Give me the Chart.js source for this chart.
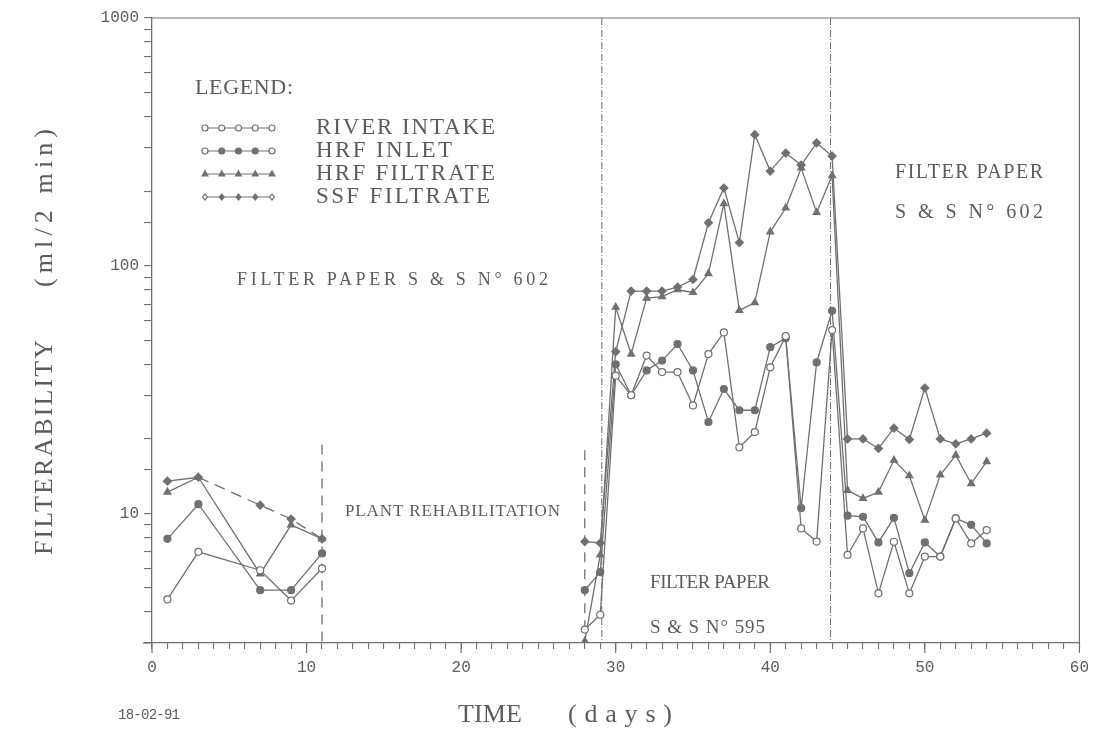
<!DOCTYPE html>
<html><head><meta charset="utf-8">
<script src="https://cdn.jsdelivr.net/npm/chart.js@4/dist/chart.umd.min.js"></script>
<style>html,body{margin:0;padding:0;background:#fff}canvas{display:block}</style>
</head><body>
<canvas id="c" width="1098" height="735"></canvas>
<script>
// ---- data (days; null = no measurement / gap) ----
const days = [1,3,7,9,11,20,28,29,30,31,32,33,34,35,36,37,38,39,40,41,42,43,44,45,46,47,48,49,50,51,52,53,54];
const riverIntake = [4.5,7.0,5.9,4.45,6.0, null, 3.4,3.9, 36,30,43.4,37.2,37.2,27.3,44,53.8,18.5,21.3,38.9,52,8.7,7.7,55, 6.8,8.7,4.76,7.69,4.76,6.7,6.7,9.55,7.57,8.57];
const hrfInlet = [7.9,10.9,4.9,4.9,6.9, null, 4.9,5.8, 40,30,37.8,41.4,48.3,37.8,23.4,31.8,26.1,26.1,46.9,51,10.5,40.7,65.8, 9.8,9.7,7.64,9.6,5.74,7.64,6.7,9.55,9.0,7.57];
const hrfFiltrate = [12.2,14,5.7,9.0,7.9, null, 3.05,6.8, 68,44,74,75,80,78,93,178,66,71,137,171,248,164,231, 12.4,11.5,12.2,16.4,14.2,9.4,14.3,17.2,13.2,16.2];
const ssfFiltrate = [13.5,14,10.8,9.5,7.9, null, 7.7,7.6, 45,79,79,79,82,88,149,206,124,338,241,285,255,313,277, 20,20,18.3,22.1,19.9,32.1,20,19.1,20,21.1];
const seriesNames = ['RIVER INTAKE','HRF INLET','HRF FILTRATE','SSF FILTRATE'];
const xTickLabels = [0,10,20,30,40,50,60];
const yTickLabels = [10,100,1000];
// vertical markers: day, top value
const periodDays = [11, 28, 29.1, 43.9];
const periodTops = [19, 18, 1000, 1000];

const INK = '#707070';
const TXT = '#5c5c5c';
const SERIF = '"Liberation Serif", "DejaVu Serif", serif';
const MONO = '"Liberation Mono", "DejaVu Sans Mono", monospace';

function pts(vals){ return days.map((d,i)=>({x:d, y:vals[i]})); }

const base = {borderColor: INK, borderWidth: 1.3, pointBorderColor: INK, pointBorderWidth: 1.2, tension: 0, spanGaps: false};
const datasets = [
  Object.assign({}, base, {label: seriesNames[0], data: pts(riverIntake), pointStyle:'circle', pointRadius:3.5, pointBackgroundColor:'#fff'}),
  Object.assign({}, base, {label: seriesNames[1], data: pts(hrfInlet), pointStyle:'circle', pointRadius:3.5, pointBackgroundColor:INK}),
  Object.assign({}, base, {label: seriesNames[2], data: pts(hrfFiltrate), pointStyle:'triangle', pointRadius:4, pointBackgroundColor:INK}),
  Object.assign({}, base, {label: seriesNames[3], data: pts(ssfFiltrate), pointStyle:'rectRot', pointRadius:4, pointBackgroundColor:INK,
    segment: {borderDash: c => (c.p0.parsed.x >= 3 && c.p1.parsed.x <= 11) ? [11,7] : undefined}})
];

function fitText(ctx, text, x, y, width, size, family){
  ctx.font = size + 'px ' + family;
  ctx.letterSpacing = '0px';
  const w0 = ctx.measureText(text).width;
  const ls = text.length > 1 ? (width - w0) / (text.length - 1) : 0;
  ctx.letterSpacing = ls + 'px';
  ctx.textAlign = 'left'; ctx.textBaseline = 'middle';
  ctx.fillText(text, x, y);
  ctx.letterSpacing = '0px';
}
function marker(ctx, style, x, y, r, fill){
  ctx.beginPath();
  if (style === 'circle') ctx.arc(x, y, r, 0, Math.PI*2);
  else if (style === 'triangle'){ ctx.moveTo(x, y-r); ctx.lineTo(x+r*0.9, y+r*0.6); ctx.lineTo(x-r*0.9, y+r*0.6); ctx.closePath(); }
  else { ctx.moveTo(x, y-r); ctx.lineTo(x+r*0.8, y); ctx.lineTo(x, y+r); ctx.lineTo(x-r*0.8, y); ctx.closePath(); }
  ctx.fillStyle = fill; ctx.fill(); ctx.stroke();
}

const deco = {
  id: 'deco',
  beforeDatasetsDraw(chart){
    const ctx = chart.ctx, xs = chart.scales.x, ys = chart.scales.y, a = chart.chartArea;
    ctx.save();
    ctx.strokeStyle = INK; ctx.lineWidth = 1.2;
    // frame top / right
    ctx.beginPath(); ctx.moveTo(a.left, a.top); ctx.lineTo(a.right, a.top); ctx.lineTo(a.right, a.bottom); ctx.stroke();
    // axis overshoot at origin and longer major x ticks
    ctx.beginPath(); ctx.moveTo(a.left - 9, a.bottom); ctx.lineTo(a.left, a.bottom); ctx.stroke();
    xTickLabels.forEach(v => { const px = xs.getPixelForValue(v); ctx.beginPath(); ctx.moveTo(px, a.bottom); ctx.lineTo(px, a.bottom + 10); ctx.stroke(); });
    periodDays.forEach((d,i)=>{
      const px = xs.getPixelForValue(d);
      ctx.beginPath();
      if (periodTops[i] >= 1000){ ctx.setLineDash([7,2,1,2]); ctx.lineWidth = 1; }
      else { ctx.setLineDash([10,7]); ctx.lineWidth = 1.3; }
      ctx.moveTo(px, ys.getPixelForValue(periodTops[i])); ctx.lineTo(px, a.bottom); ctx.stroke();
    });
    ctx.restore();
  },
  afterDraw(chart){
    const ctx = chart.ctx;
    ctx.save();
    ctx.fillStyle = TXT;
    // legend
    fitText(ctx, 'LEGEND:', 195, 88, 98, 22, SERIF);
    const rows = [128, 151, 174, 197];
    const labW = [179, 136, 179, 174];
    const styles = ['circle','circle','triangle','rect'];
    ctx.strokeStyle = INK; ctx.lineWidth = 1.2;
    rows.forEach((ry, i)=>{
      ctx.beginPath(); ctx.moveTo(205, ry); ctx.lineTo(272, ry); ctx.stroke();
      for (let k=0;k<5;k++){
        const mx = 205 + k*16.75;
        let fill = INK;
        if (i===0) fill = '#fff';
        if ((i===1 || i===3) && (k===0 || k===4)) fill = '#fff';
        marker(ctx, styles[i], mx, ry, i===2 ? 3.2 : 3, fill);
      }
      ctx.fillStyle = TXT;
      fitText(ctx, seriesNames[i], 316, ry, labW[i], 23, SERIF);
    });
    // annotations
    fitText(ctx, 'FILTER PAPER S & S N\u00B0 602', 237, 280, 311, 18, SERIF);
    fitText(ctx, 'PLANT REHABILITATION', 345, 512, 215, 17, SERIF);
    fitText(ctx, 'FILTER PAPER', 650, 583, 120, 19, SERIF);
    fitText(ctx, 'S & S N\u00B0 595', 650, 628, 115, 19, SERIF);
    fitText(ctx, 'FILTER PAPER', 895, 173, 148, 20, SERIF);
    fitText(ctx, 'S & S N\u00B0 602', 895, 213, 148, 20, SERIF);
    // axis titles
    fitText(ctx, '18-02-91', 118, 715, 62, 14, MONO);
    fitText(ctx, 'TIME', 458, 715, 64, 26, SERIF);
    fitText(ctx, '(days)', 568, 715, 104, 26, SERIF);
    ctx.translate(45, 555); ctx.rotate(-Math.PI/2);
    fitText(ctx, 'FILTERABILITY', 0, 0, 215, 26, SERIF);
    fitText(ctx, '(ml/2 min)', 268, 0, 158, 26, SERIF);
    ctx.restore();
  }
};

new Chart(document.getElementById('c'), {
  type: 'line',
  data: {datasets},
  plugins: [deco],
  options: {
    responsive: false, animation: false, devicePixelRatio: 1,
    layout: {padding: {left: 0, top: 18, right: 15, bottom: 0}},
    plugins: {legend: {display: false}, tooltip: {enabled: false}},
    scales: {
      x: {
        type: 'linear', min: 0, max: 60,
        afterFit: s => { s.height = 92; },
        ticks: {stepSize: 1, autoSkip: false, maxRotation: 0, color: TXT, padding: 9,
          font: {family: MONO, size: 16},
          callback: v => xTickLabels.includes(v) ? String(v) : ''},
        grid: {drawOnChartArea: false, drawTicks: true, tickLength: 6, color: INK, lineWidth: 1.1},
        border: {display: true, color: INK, width: 1.3}
      },
      y: {
        type: 'logarithmic', min: 3, max: 1000,
        afterFit: s => { s.width = 152; },
        ticks: {autoSkip: false, color: TXT, padding: 5,
          font: {family: MONO, size: 16},
          callback: v => yTickLabels.includes(v) ? String(v) : ''},
        grid: {drawOnChartArea: false, drawTicks: true, tickLength: 8, color: INK, lineWidth: 1.1},
        border: {display: true, color: INK, width: 1.3}
      }
    }
  }
});
</script>
</body></html>
